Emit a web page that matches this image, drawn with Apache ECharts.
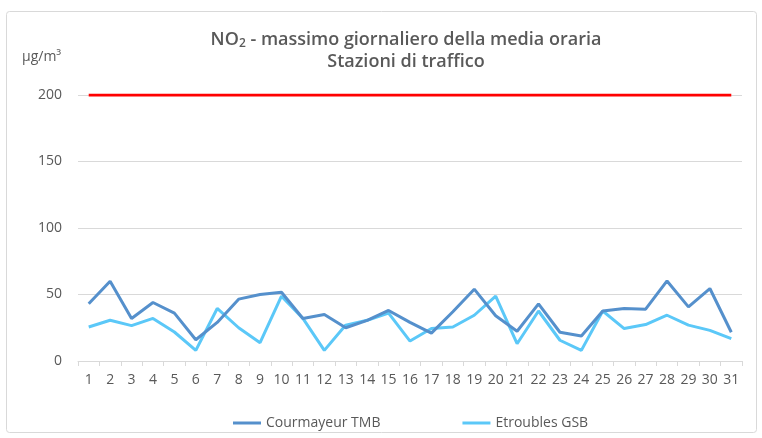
<!DOCTYPE html>
<html><head><meta charset="utf-8">
<script src="https://cdn.jsdelivr.net/npm/echarts@6/dist/echarts.min.js"></script>
<style>html,body{margin:0;padding:0;background:#fff}#c{width:762px;height:438px}</style>
</head><body><div id="c"></div>
<script>
const days = ['1','2','3','4','5','6','7','8','9','10','11','12','13','14','15','16','17','18','19','20','21','22','23','24','25','26','27','28','29','30','31'];
const courmayeur = [43,60,32,44,36,16,29,46.5,50,51.7,32,35,25,30.6,38,29,21,37,54,34,22.4,43,21.6,18.8,37.6,39.5,39,60.2,40.7,54.5,21.6];
const etroubles = [25.6,30.6,26.6,32,21.8,8,39.5,25,13.8,48.7,32,8,27,30.6,36,15,24.4,25.6,34.4,48.7,13,37.6,15.6,8,37.6,24.4,27.4,34.4,27,23,16.8];
const limitValue = 200;
const limit = days.map(() => limitValue);
const yTicks = [0, 50, 100, 150, 200];

const font = '"Open Sans", sans-serif';
const chart = echarts.init(document.getElementById('c'), null, {renderer: 'canvas'});
chart.setOption({
  animation: false,
  backgroundColor: '#fff',
  graphic: [
    {type: 'rect', shape: {x: 6.5, y: 11.5, width: 750, height: 421, r: 3}, style: {fill: 'none', stroke: '#d9d9d9', lineWidth: 1}, silent: true},
    {type: 'text', x: 22, y: 57, style: {text: 'μg/m³', fill: '#595959', font: '14px ' + font, textVerticalAlign: 'middle'}},
    {type: 'text', x: 406, y: 40, style: {
      text: 'NO{s|2} - massimo giornaliero della media oraria',
      rich: {s: {fontSize: 12, fontWeight: 600, fontFamily: font, fill: '#595959', color: '#595959', padding: [8, 0, 0, 0]}},
      fill: '#595959', font: '600 18px ' + font, textAlign: 'center', textVerticalAlign: 'middle'}},
    {type: 'text', x: 406, y: 62, style: {text: 'Stazioni di traffico', fill: '#595959', font: '600 18px ' + font, textAlign: 'center', textVerticalAlign: 'middle'}}
  ],
  legend: {
    top: 411, left: 228, itemGap: 82, itemWidth: 28, itemHeight: 3,
    icon: 'rect',
    data: ['Courmayeur TMB', 'Etroubles GSB'],
    textStyle: {fontFamily: font, fontSize: 14, color: '#595959'}
  },
  grid: {left: 78, right: 20, top: 95, bottom: 77},
  xAxis: {
    type: 'category', data: days, boundaryGap: true,
    axisLine: {lineStyle: {color: '#d9d9d9'}},
    axisTick: {show: true, length: 5, lineStyle: {color: '#d9d9d9'}},
    axisLabel: {fontFamily: font, fontSize: 14, color: '#595959', margin: 12, interval: 0}
  },
  yAxis: {
    type: 'value', min: yTicks[0], max: yTicks[yTicks.length-1], interval: 50,
    axisLine: {show: false}, axisTick: {show: false},
    splitLine: {lineStyle: {color: '#d9d9d9'}},
    axisLabel: {fontFamily: font, fontSize: 14, color: '#595959', margin: 16}
  },
  series: [
    {name: 'Courmayeur TMB', type: 'line', data: courmayeur, symbol: 'none', lineStyle: {width: 3, color: '#5590CC'}, itemStyle: {color: '#5590CC'}, z: 3},
    {name: 'Etroubles GSB', type: 'line', data: etroubles, symbol: 'none', lineStyle: {width: 3, color: '#5BC8F8'}, itemStyle: {color: '#5BC8F8'}, z: 2},
    {name: 'Limite', type: 'line', data: limit, symbol: 'none', lineStyle: {width: 3, color: '#FF0000'}, itemStyle: {color: '#FF0000'}, z: 4}
  ]
});
</script></body></html>
